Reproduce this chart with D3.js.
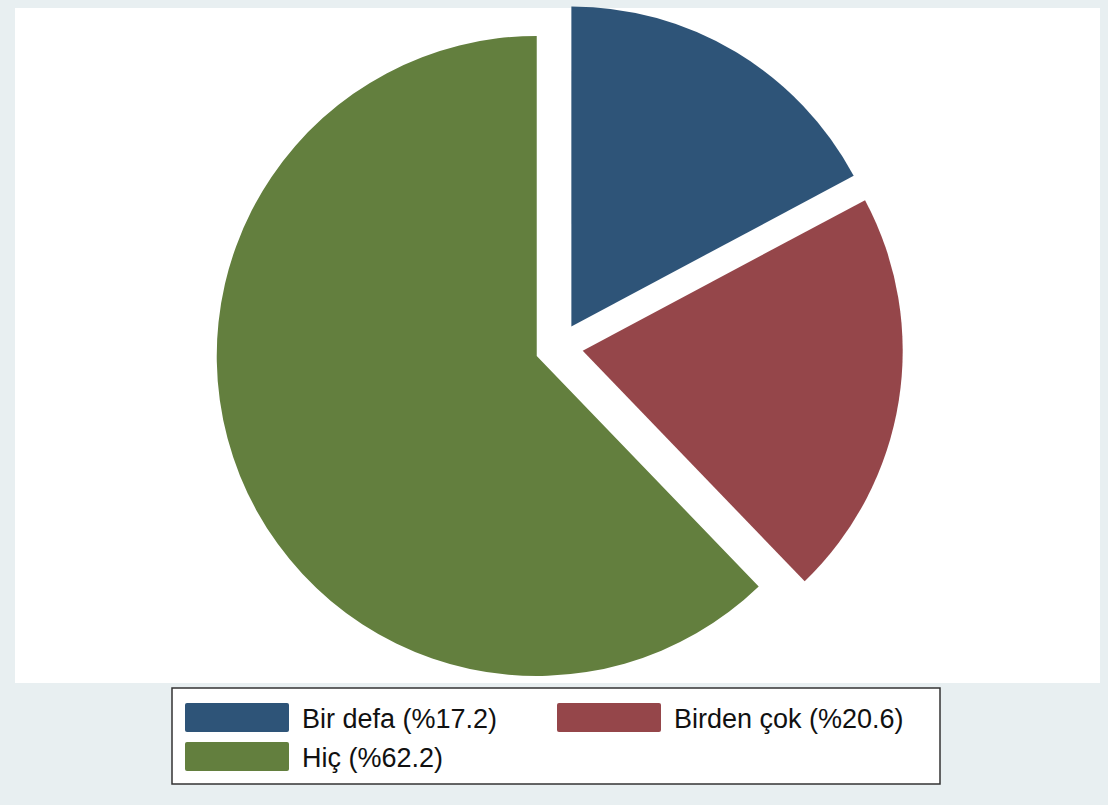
<!DOCTYPE html>
<html>
<head>
<meta charset="utf-8">
<script src="https://cdn.jsdelivr.net/npm/d3@7"></script>
<style>
  body { margin: 0; background: #e8eff1; }
  svg { display: block; }
</style>
</head>
<body>
<script>
'use strict';

// data
const labels = ["Bir defa", "Birden çok", "Hiç"];
const shares = [17.2, 20.6, 62.2];
const colors = ["#2e5478", "#95464a", "#637f3e"];

(function () {
  const width = 1108, height = 805;
  const svg = d3.select("body").append("svg")
    .attr("width", width)
    .attr("height", height);

  // outer background + white plot region
  svg.append("rect").attr("width", width).attr("height", height).attr("fill", "#e8eff1");
  svg.append("rect")
    .attr("x", 15).attr("y", 8)
    .attr("width", 1085).attr("height", 675)
    .attr("fill", "#ffffff");

  const rows = labels.map((l, i) => ({ label: l, value: shares[i], color: colors[i] }));

  // pie centre, radius and explode distance
  const cx = 559, cy = 347, radius = 320, explode = 24;

  const pie = d3.pie().sort(null).value((d) => d.value).startAngle(0).endAngle(2 * Math.PI);
  const arc = d3.arc().innerRadius(0).outerRadius(radius);

  const g = svg.append("g").attr("transform", "translate(" + cx + "," + cy + ")");
  g.selectAll("path")
    .data(pie(rows))
    .enter()
    .append("path")
    .attr("d", arc)
    .attr("fill", (d) => d.data.color)
    .attr("transform", (d) => {
      let mid = (d.startAngle + d.endAngle) / 2;
      return "translate(" + (Math.sin(mid) * explode) + "," + (-Math.cos(mid) * explode) + ")";
    });

  // legend
  const lg = svg.append("g").attr("transform", "translate(172,688)");
  lg.append("rect")
    .attr("width", 768).attr("height", 96)
    .attr("fill", "#ffffff")
    .attr("stroke", "#333333")
    .attr("stroke-width", 1.5);

  const keyPos = [{ x: 13, y: 15 }, { x: 385, y: 15 }, { x: 13, y: 54 }];
  const items = lg.selectAll(".item")
    .data(rows)
    .enter()
    .append("g")
    .attr("class", "item")
    .attr("transform", (d, i) => "translate(" + keyPos[i].x + "," + keyPos[i].y + ")");

  items.append("rect")
    .attr("width", 104).attr("height", 29)
    .attr("rx", 2)
    .attr("fill", (d) => d.color);

  items.append("text")
    .attr("x", 117).attr("y", 25)
    .style("font-family", "'Liberation Sans', Arial, sans-serif")
    .style("font-size", "27px")
    .attr("fill", "#111")
    .text((d) => d.label + " (%" + d.value.toFixed(1) + ")");
})();
</script>
</body>
</html>
